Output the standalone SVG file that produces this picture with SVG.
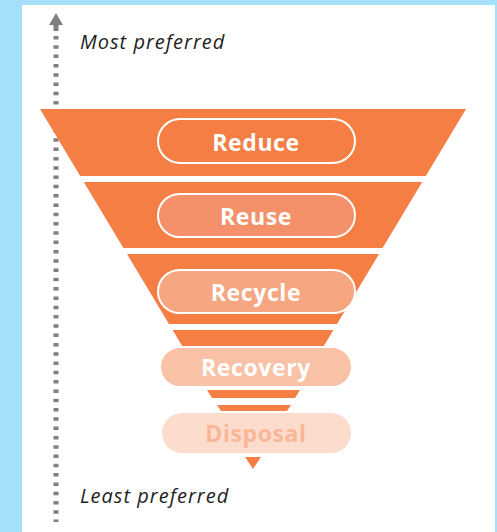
<svg xmlns="http://www.w3.org/2000/svg" width="497" height="532" viewBox="0 0 497 532">
  <defs>
    <style>
      .band { fill: #f47e44; }
      .pill { stroke: #ffffff; stroke-width: 2; }
      .label { font-family: "Open Sans", "DejaVu Sans", sans-serif; font-weight: bold; font-size: 23px; letter-spacing: 0.6px; text-anchor: middle; fill: #ffffff; }
      .note { font-family: "Open Sans", "DejaVu Sans", sans-serif; font-style: italic; font-size: 20px; letter-spacing: 1px; fill: #1e1e1e; }
    </style>
  </defs>

  <!-- page background and white panel -->
  <rect x="0" y="0" width="497" height="532" fill="#a6dff9"/>
  <rect x="22" y="5" width="473" height="527" fill="#ffffff"/>

  <!-- preference axis -->
  <g id="axis">
    <line x1="56" y1="36" x2="56" y2="522" stroke="#808080" stroke-width="5" stroke-dasharray="3.5 5.8"/>
    <rect x="53.5" y="24" width="5" height="7" fill="#808080"/>
    <polygon points="56,13 63,25 49,25" fill="#808080"/>
  </g>
  <text id="most" class="note" x="80" y="49">Most preferred</text>
  <text id="least" class="note" x="80" y="503">Least preferred</text>

  <!-- funnel bands -->
  <g id="funnel">
    <polygon class="band" points="40,109 466,109 425.8,176 80.2,176"/>
    <polygon class="band" points="83.8,182 422.2,182 382.6,248 123.4,248"/>
    <polygon class="band" points="127,254 379,254 337,324 169,324"/>
    <polygon class="band" points="172.6,330 333.4,330 301,384 205,384"/>
    <polygon class="band" points="207,390 300,390 295,398 212,398"/>
    <polygon class="band" points="217,405 291,405 287,411 221,411"/>
    <polygon class="band" points="245,457 261,457 253,469"/>
  </g>

  <g id="reduce">
    <rect class="pill" x="158" y="119" width="197" height="44" rx="22" fill="#f47e44"/>
    <text class="label" x="256" y="150.5">Reduce</text>
  </g>
  <g id="reuse">
    <rect class="pill" x="158" y="194" width="197" height="43" rx="21.5" fill="#f4916a"/>
    <text class="label" x="256" y="224.5">Reuse</text>
  </g>
  <g id="recycle">
    <rect class="pill" x="158" y="270" width="197" height="43" rx="21.5" fill="#f6a681"/>
    <text class="label" x="256" y="300.5">Recycle</text>
  </g>
  <g id="recovery">
    <rect class="pill" x="160" y="347" width="192" height="40" rx="20" fill="#f9c1a6"/>
    <text class="label" x="256" y="375.5">Recovery</text>
  </g>
  <g id="disposal">
    <rect x="162" y="413" width="189" height="40" rx="20" fill="#fcdccd"/>
    <text class="label" x="256" y="441.5" style="fill:#f8b797">Disposal</text>
  </g>
</svg>
